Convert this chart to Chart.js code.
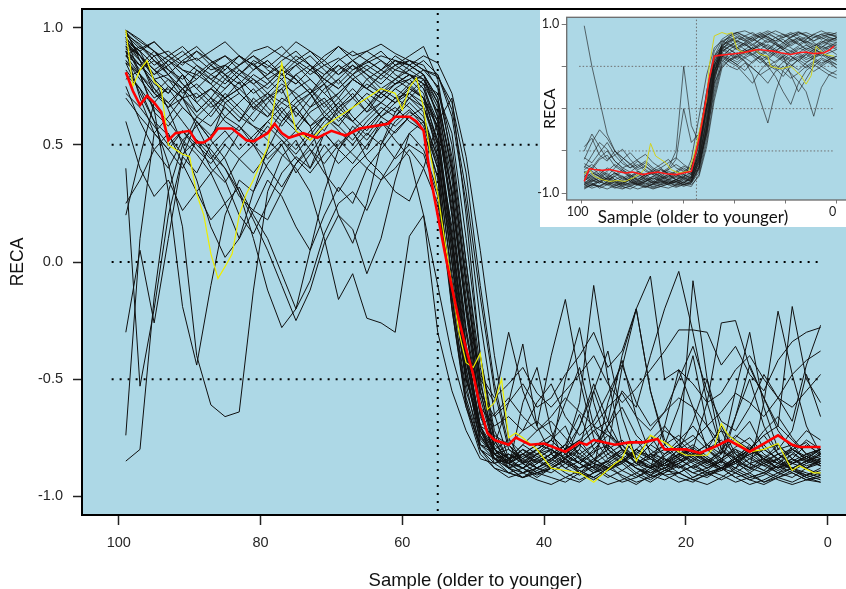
<!DOCTYPE html>
<html>
<head>
<meta charset="utf-8">
<title>RECA by sample</title>
<script src="https://cdn.jsdelivr.net/npm/chart.js@4/dist/chart.umd.min.js"></script>
<style>
  html, body { margin: 0; padding: 0; width: 846px; height: 589px; overflow: hidden; background: #fff; }
  #mainWrap { position: absolute; left: 0; top: 0; width: 869px; height: 589px; }
  #insetPaper { position: absolute; left: 540px; top: 10px; width: 306px; height: 217px; background: #fff; }
  #insetChart { position: absolute; left: 536px; top: 10px; filter: blur(0.3px); }
</style>
</head>
<body>
<div id="mainWrap"><canvas id="mainChart" width="869" height="589"></canvas></div>
<div id="insetPaper"></div>
<canvas id="insetChart" width="314" height="217"></canvas>
<script>
// ---------- main panel ----------
// sample positions shared by every run (older -> younger)
const samples = [99,97,95,93,91,89,87,85,83,81,79,77,75,73,71,69,67,65,63,61,59,57,55,53,51,49,47,45,43,41,39,37,35,33,31,29,27,25,23,21,19,17,15,13,11,9,7,5,3,1];

// individual runs, RECA in hundredths
const mainRuns = [
  [98,92,88,90,85,87,82,84,80,86, 83,88,85,80,84,87,82,85,88,86, 84,80,62,20,-35,-70,-82,-85,-80,-83, -86,-82,-78,-84,-88,-85,-80,-83,-87,-84, -80,-85,-88,-83,-79,-84,-86,-82,-85,-87],
  [95,90,78,72,80,68,74,70,77,65, 72,78,70,74,66,72,78,74,70,76, 80,74,55,10,-40,-72,-84,-88,-90,-86, -82,-88,-91,-87,-85,-89,-92,-88,-84,-87, -90,-88,-85,-89,-92,-90,-86,-88,-91,-89],
  [90,70,55,48,40,52,45,35,20,12, 25,38,45,40,50,42,48,55,50,60, 65,58,40,-5,-45,-78,-80,-76,-82,-78, -74,-80,-70,-55,-72,-80,-84,-78,-82,-76, -70,-78,-82,-75,-68,-80,-84,-79,-72,-76],
  [-74,10,55,62,70,58,64,72,66,60, 68,74,62,70,76,64,70,78,72,68, 75,70,45,5,-42,-70,-86,-90,-88,-92, -88,-84,-90,-93,-89,-86,-91,-94,-90,-87, -92,-89,-85,-90,-93,-91,-87,-90,-93,-92],
  [-85,-80,-15,30,50,62,58,66,60,70, 64,58,66,72,62,68,60,66,74,70, 72,78,68,40,-10,-55,-78,-84,-80,-86, -82,-78,-65,-80,-86,-82,-76,-84,-88,-85, -82,-78,-84,-88,-80,-74,-82,-86,-83,-80],
  [85,72,60,42,15,-40,-61,-66,-64,-12, 30,45,52,40,55,48,58,52,60,55, 62,66,50,15,-30,-66,-80,-84,-78,-82, -85,-80,-84,-78,-72,-80,-86,-82,-84,-88, -84,-80,-76,-82,-86,-84,-80,-78,-85,-82],
  [92,80,65,30,-19,-44,-10,20,35,30, 42,50,38,46,55,48,42,50,58,62, 70,64,30,-20,-60,-80,-84,-82,-86,-80, -76,-82,-86,-90,-84,-80,-86,-88,-82,-78, -83,-87,-84,-80,-86,-89,-84,-81,-86,-84],
  [-30,5,-26,10,45,60,52,68,62,58, 55,64,70,62,56,66,72,64,68,74, 70,76,72,55,10,-40,-72,-85,-88,-84, -80,-86,-90,-85,-78,-84,-88,-91,-86,-82, -86,-90,-88,-84,-80,-86,-90,-92,-88,-85],
  [20,45,68,75,70,82,78,74,80,85, 78,72,80,84,76,70,78,82,86,80, 76,70,52,5,-48,-76,-82,-88,-84,-80, -76,-60,-45,-70,-82,-86,-80,-74,-84,-88, -85,-80,-70,-82,-88,-84,-78,-84,-88,-86],
  [99,95,90,86,82,80,85,88,84,90, 92,88,94,90,86,92,88,90,93,89, 86,82,75,50,0,-50,-80,-88,-92,-90, -88,-92,-94,-90,-86,-92,-95,-91,-88,-92, -94,-90,-88,-92,-95,-93,-90,-88,-92,-94],
  [75,60,48,55,42,30,38,25,10,22, 35,28,15,5,20,32,25,40,35,45, 55,48,30,-10,-50,-72,-80,-84,-78,-72, -68,-75,-82,-78,-70,-62,-74,-80,-85,-80, -76,-70,-78,-84,-80,-72,-66,-75,-82,-80],
  [96,88,82,75,70,72,66,70,74,68, 62,70,66,58,40,20,8,25,50,64, 72,68,58,30,-20,-62,-82,-86,-90,-88, -84,-80,-86,-90,-87,-83,-88,-92,-90,-86, -82,-86,-89,-85,-80,-84,-88,-86,-83,-87],
  [88,84,78,80,72,76,70,78,74,80, 76,82,78,72,80,84,78,74,80,86, 84,88,85,72,45,5,-40,-75,-86,-90, -88,-84,-90,-92,-88,-85,-90,-93,-89,-86, -90,-92,-88,-85,-90,-94,-91,-88,-90,-92],
  [94,86,72,68,74,64,70,66,60,68, 72,64,58,66,70,62,55,48,60,52, 45,20,-30,-55,-72,-84,-86,-82,-85,-88, -84,-80,-76,-84,-88,-86,-80,-84,-87,-83, -79,-84,-88,-86,-81,-78,-85,-89,-86,-82],
  [97,93,86,82,78,84,80,76,82,78, 74,80,84,78,72,78,84,80,76,82, 80,74,60,20,-30,-65,-78,-60,-35,-70, -82,-50,-28,-60,-80,-45,-20,-55,-78,-62, -40,-70,-82,-55,-30,-62,-80,-72,-48,-66],
  [90,82,88,80,86,82,76,84,88,82, 86,80,76,82,86,80,84,78,82,86, 82,78,66,35,-15,-58,-80,-86,-82,-88, -84,-80,-86,-82,-70,-55,-62,-40,-20,-4, -30,-60,-80,-84,-78,-85,-88,-82,-76,-80],
  [92,88,80,84,76,70,74,80,72,66, 70,76,72,66,74,78,70,64,72,78, 74,70,58,25,-20,-48,-58,-52,-45,-56, -62,-55,-48,-40,-52,-60,-54,-46,-38,-29, -29,-30,-44,-36,-48,-55,-42,-34,-30,-28],
  [86,80,72,78,70,64,70,62,68,74, 66,60,68,72,64,58,66,70,62,68, 72,66,48,0,-50,-70,-65,-58,-66,-72, -66,-58,-64,-70,-62,-56,-66,-72,-64,-58, -62,-70,-64,-56,-60,-66,-58,-48,-42,-38],
  [99,94,90,84,88,92,86,82,88,84, 80,86,90,84,80,86,90,86,82,88, 84,80,70,40,-10,-50,-60,-30,-55,-70, -40,-16,-50,-75,-84,-80,-86,-82,-78,-84, -8,-50,-80,-86,-89,-85,-82,-86,-88,-84],
  [60,40,28,35,22,30,18,25,32,20, 10,-5,-20,-8,12,25,30,22,35,40, 48,40,25,-15,-55,-75,-82,-78,-84,-80, -76,-82,-86,-80,-74,-78,-84,-88,-82,-78, -74,-80,-84,-79,-75,-82,-86,-80,-77,-83],
  [80,74,66,60,52,58,46,40,30,18, 5,-10,-25,-12,8,20,14,-5,10,35, 55,60,45,0,-42,-74,-84,-88,-86,-82, -80,-84,-88,-85,-80,-84,-88,-90,-86,-83, -80,-84,-88,-85,-82,-86,-89,-86,-83,-85],
  [95,90,94,88,84,90,86,80,84,88, 82,78,84,88,82,76,82,86,90,84, 88,92,78,42,-5,-52,-76,-88,-92,-88, -90,-86,-83,-88,-92,-89,-85,-88,-91,-90, -87,-84,-88,-92,-90,-86,-84,-89,-92,-90],
  [78,82,86,80,74,78,84,88,82,76, 80,84,78,72,76,82,86,80,74,78, 82,86,80,65,30,-15,-55,-80,-85,-82, -78,-84,-70,-52,-68,-80,-86,-84,-78,-74, -80,-86,-82,-66,-50,-70,-82,-86,-84,-80],
  [98,88,78,65,50,35,15,2,10,30, 48,60,66,58,64,70,62,56,64,70, 66,60,42,-8,-52,-80,-88,-90,-92,-89, -86,-90,-93,-90,-88,-91,-94,-92,-89,-90, -93,-95,-92,-88,-91,-94,-92,-90,-93,-94],
  [96,80,64,58,66,60,54,62,58,52, 60,66,58,52,60,66,60,54,62,66, 60,56,36,-15,-58,-78,-82,-86,-80,-84, -88,-84,-78,-72,-80,-86,-82,-76,-70,-78, -84,-86,-80,-74,-78,-84,-88,-84,-78,-82],
  [88,92,86,80,86,90,84,78,84,88, 84,80,86,90,84,80,86,82,78,84, 80,76,64,28,-22,-64,-82,-88,-60,-45, -72,-86,-80,-55,-38,-66,-84,-88,-70,-46, -62,-80,-86,-66,-44,-58,-70,-19,-50,-60],
  [93,88,82,78,74,80,76,70,74,78, 72,68,74,78,72,66,70,76,72,76, 78,72,50,8,-40,-72,-84,-82,-86,-90, -87,-83,-86,-89,-85,-81,-84,-88,-85,-82, -85,-88,-84,-80,-83,-87,-90,-86,-83,-86],
  [25,35,48,40,52,46,38,45,55,50, 58,52,46,54,62,56,50,58,64,70, 76,80,70,38,-8,-55,-80,-86,-88,-85, -82,-86,-88,-84,-80,-76,-82,-86,-89,-86, -83,-80,-85,-88,-84,-80,-78,-84,-87,-85],
  [86,78,70,74,66,60,52,44,30,10, -12,-28,-20,5,30,48,56,62,68,64, 70,66,52,10,-38,-70,-84,-86,-83,-80, -84,-88,-85,-81,-78,-84,-87,-83,-80,-84, -88,-85,-81,-84,-88,-86,-82,-80,-84,-87],
  [97,91,94,88,92,86,90,94,88,84, 88,92,86,82,88,92,86,90,86,82, 86,84,74,45,0,-45,-76,-86,-90,-88, -85,-80,-60,-10,-50,-78,-86,-90,-88,-84, -88,-91,-89,-85,-88,-90,-87,-84,-88,-91],
  [90,84,76,72,80,74,68,74,80,76, 70,74,80,74,68,72,78,74,70,76, 80,76,56,12,-36,-70,-80,-84,-82,-78, -80,-84,-78,-72,-68,-40,-20,-55,-76,-82, -80,-60,-26,-25,-45,-58,-72,-80,-84,-80],
  [72,66,58,50,56,48,42,50,44,38, 46,52,44,38,46,52,46,40,48,56, 62,56,36,-18,-60,-80,-86,-84,-88,-91, -88,-85,-89,-92,-88,-84,-88,-91,-93,-90, -87,-90,-93,-90,-86,-89,-92,-94,-91,-88],
  [94,90,84,88,82,78,84,80,76,82, 86,80,76,82,78,74,80,84,80,76, 80,78,62,22,-28,-62,-70,-66,-72,-60, -52,-66,-74,-68,-56,-44,-60,-70,-64,-50, -36,-55,-68,-72,-62,-48,-58,-68,-44,-27],
  [85,80,74,68,60,52,48,40,28,22, 18,30,42,50,58,64,60,66,72,68, 74,70,60,30,-18,-62,-84,-90,-92,-90, -92,-94,-90,-87,-91,-94,-92,-89,-86,-90, -93,-91,-88,-90,-93,-95,-92,-89,-91,-93],
  [99,86,74,66,70,62,68,60,56,64, 70,62,56,64,68,60,66,72,68,74, 78,82,79,68,38,-10,-52,-78,-86,-84, -80,-84,-88,-86,-82,-78,-84,-88,-86,-82, -78,-83,-87,-84,-80,-84,-88,-85,-82,-84],
  [40,-53,-20,20,45,38,50,56,48,54, 60,54,48,56,62,58,52,60,66,62, 68,62,44,0,-46,-74,-82,-80,-84,-88, -84,-78,-82,-86,-88,-84,-80,-83,-87,-85, -81,-85,-88,-84,-80,-83,-86,-88,-85,-81],
  [92,86,80,86,90,84,78,82,88,84, 78,82,88,84,78,74,80,86,82,78, 84,80,68,30,-20,-56,-66,-60,-52,-62, -58,-48,-40,-30,-45,-38,-20,-6,-50,-46, -52,-60,-56,-46,-40,-50,-58,-62,-55,-48],
  [91,84,90,82,76,70,74,68,72,66, 62,68,64,58,62,68,74,68,62,58, 64,60,40,-20,-62,-82,-88,-92,-90,-93, -95,-92,-89,-92,-95,-93,-90,-87,-91,-94, -92,-89,-91,-94,-92,-90,-93,-95,-93,-91],
  [82,74,60,54,46,52,40,34,44,50, 40,32,42,48,38,30,40,46,52,44, 50,46,28,-12,-50,-70,-74,-78,-72,-68, -74,-80,-76,-70,-74,-80,-84,-78,-72,-76, -82,-78,-72,-76,-80,-74,-70,-76,-82,-80],
  [94,88,82,86,80,74,80,84,78,72, 76,82,78,72,78,84,80,74,80,84, 86,82,80,62,25,-25,-65,-84,-88,-82, -76,-70,-84,-88,-60,-42,-66,-82,-86,-80, -68,-50,-72,-84,-88,-60,-21,-48,-70,-82],
  [70,62,55,48,56,50,44,52,58,50, 44,50,56,48,42,50,56,44,38,30, 26,40,60,70,20,-40,-75,-84,-82,-86, -82,-78,-84,-88,-85,-80,-84,-87,-83,-79, -84,-88,-85,-81,-84,-87,-84,-80,-83,-86],
  [88,80,72,66,74,68,62,70,64,58, 52,46,40,30,10,-16,-5,-24,-26,-30, 11,20,-10,-40,-62,-78,-84,-86,-82,-85, -88,-84,-80,-86,-89,-85,-81,-84,-88,-86, -82,-85,-89,-86,-82,-80,-84,-88,-85,-83]
];

// mean of all runs
const meanSamples = [99,98,97,96,95,94,93,92,90,89, 88,87,86,84,82,81,79,78,77,76, 74,72,70,68,66,64,62,61,59,58, 57,56,55,54,53,52,51,50,49,48, 47,45,44,42,40,37,35,34,33,30, 28,26,24,23,20,18,16,14,11,9, 7,5,4,1];
const meanReca = [0.81,0.73,0.67,0.71,0.68,0.64,0.52,0.55,0.56,0.51, 0.51,0.53,0.57,0.57,0.52,0.515,0.55,0.59,0.55,0.53, 0.55,0.53,0.56,0.54,0.57,0.58,0.59,0.62,0.62,0.60, 0.56,0.36,0.20,0.04,-0.11,-0.25,-0.37,-0.48,-0.62,-0.73, -0.76,-0.78,-0.75,-0.78,-0.775,-0.81,-0.77,-0.78,-0.76,-0.78, -0.77,-0.77,-0.755,-0.80,-0.80,-0.815,-0.79,-0.76,-0.81,-0.775, -0.74,-0.78,-0.79,-0.79];

// highlighted single run
const hlSamples = [99,98,97,96,95,94,93,91,90,89, 88,87,86,85,84,83,82,81,79,78, 77,76,75,73,71,69,67,65,63,62, 61,60,59,58,57,56,55,54,53,52, 51,50,49,48,47,46,45,44,43,41, 39,37,35,33,30,29,28,27,25,23, 21,20,17,16,15,14,11,9,7,5, 4,2,1];
const hlReca = [0.99,0.75,0.82,0.86,0.77,0.74,0.50,0.46,0.45,0.29, 0.20,0.035,-0.07,-0.02,0.035,0.20,0.29,0.35,0.49,0.69, 0.85,0.69,0.56,0.52,0.58,0.62,0.66,0.70,0.74,0.73, 0.72,0.65,0.745,0.785,0.66,0.45,0.29,0.09,-0.10,-0.30, -0.43,-0.45,-0.39,-0.63,-0.60,-0.50,-0.75,-0.73,-0.75,-0.80, -0.88,-0.89,-0.90,-0.94,-0.86,-0.84,-0.77,-0.85,-0.74,-0.77, -0.81,-0.825,-0.825,-0.79,-0.69,-0.74,-0.81,-0.80,-0.775,-0.89, -0.87,-0.90,-0.90];

// reference levels and split position
const refLevels = [0.5, 0, -0.5];
const refSpan = [101, 1];
const splitSample = 55;

const mainXTicks = [100, 80, 60, 40, 20, 0];
const mainYTicks = [-1, -0.5, 0, 0.5, 1];

// ---------- inset panel ----------
const insetSamples = [99,96,93,90,87,84,81,78,75,72,69,66,63,60,57,54,51,48,45,42,39,36,33,30,27,24,21,18,15,12,9,6,3,0];

const insetRuns = [
  [-90,-85,-88,-82,-86,-90,-84,-88,-86,-82, -85,-88,-84,-86,-82,-50,10,60,75,80, 72,78,84,76,70,78,82,74,80,85,78,72,80,84],
  [98,50,10,-30,-50,-62,-70,-66,-74,-78, -72,-76,-80,-74,-78,-60,-20,40,70,78, 84,80,74,82,86,78,72,80,84,76,70,78,82,80],
  [-80,-72,-60,-55,-68,-74,-80,-76,-84,-88, -82,-86,-90,-84,-80,-40,20,68,82,88, 90,85,80,86,90,84,78,85,90,86,80,84,88,86],
  [-92,-88,-94,-90,-86,-92,-95,-90,-88,-93, -90,-86,-92,-89,-86,-70,-30,20,55,66, 60,68,72,64,58,66,70,62,56,64,70,66,60,58],
  [-70,-55,-40,-48,-62,-70,-66,-74,-80,-76, -82,-78,-84,-80,-76,-55,-5,45,60,55, 50,40,30,45,55,48,38,50,58,52,44,50,56,48],
  [-85,-80,-76,-84,-88,-82,-78,-85,-90,-86, -80,-84,-88,-82,-60,-10,40,72,80,76, 70,76,82,78,72,68,76,82,78,70,74,80,76,72],
  [-60,-40,-25,-35,-50,-58,-65,-72,-68,-76, -80,-74,-78,-82,-78,-62,-25,35,62,70, 64,56,40,10,-17,20,45,58,62,55,60,66,62,58],
  [-95,-90,-92,-88,-93,-95,-91,-88,-92,-95, -92,-89,-86,-90,-88,-75,-35,30,72,84, 88,82,86,90,84,80,86,90,86,82,88,92,88,85],
  [-75,-82,-78,-70,-76,-84,-80,-74,-78,-84, -78,-72,-60,0,-40,-30,15,55,70,64, 58,66,72,66,60,54,62,68,64,58,62,66,60,56],
  [-88,-84,-80,-86,-90,-85,-82,-88,-84,-80, -76,-70,-50,50,-20,-40,0,50,75,82, 78,74,80,86,82,76,70,78,84,80,74,78,84,82],
  [-50,-30,-45,-60,-55,-65,-70,-62,-68,-74, -70,-78,-74,-68,-72,-58,-15,30,50,58, 52,45,56,62,50,38,20,5,30,45,52,46,40,36],
  [-90,-86,-82,-88,-92,-88,-84,-90,-93,-89, -85,-88,-91,-87,-84,-68,-25,40,78,86, 90,86,82,88,92,88,84,88,91,87,84,88,90,88],
  [-82,-76,-80,-86,-78,-72,-80,-84,-78,-74, -80,-84,-78,-82,-85,-55,5,58,72,66, 72,78,70,64,70,76,70,64,70,75,70,66,72,76],
  [-65,-70,-58,-50,-62,-70,-75,-68,-62,-70, -76,-72,-66,-72,-78,-48,10,52,64,58, 52,60,65,58,50,56,62,40,20,35,50,58,54,48],
  [-86,-90,-84,-80,-86,-90,-88,-82,-86,-90, -87,-83,-86,-90,-86,-60,-15,45,68,74, 80,76,70,76,82,78,72,68,74,80,76,70,74,78],
  [-78,-84,-88,-82,-76,-82,-86,-80,-84,-88, -82,-78,-84,-88,-80,-65,-30,25,60,70, 76,70,64,70,76,70,64,58,66,72,68,62,66,70],
  [-72,-66,-74,-80,-70,-60,-52,-62,-72,-78, -84,-80,-74,-78,-82,-52,5,62,80,84, 80,86,90,84,78,84,88,82,76,82,88,84,80,84],
  [-90,-94,-91,-87,-90,-94,-92,-88,-91,-94, -92,-89,-86,-90,-92,-78,-40,15,52,62, 66,60,54,62,68,62,56,50,58,64,58,52,58,62],
  [-84,-78,-72,-78,-84,-88,-82,-76,-80,-86, -88,-84,-80,-84,-86,-70,-20,50,72,76, 72,66,72,78,74,68,74,80,76,70,66,72,78,74],
  [-58,-64,-52,-40,-55,-48,-60,-70,-64,-72, -66,-60,-70,-74,-68,-45,0,40,58,50, 46,54,48,40,30,44,50,42,32,20,-9,25,40,45],
  [-93,-90,-86,-90,-94,-91,-87,-90,-93,-89, -86,-90,-93,-90,-87,-72,-28,35,70,80, 84,80,84,88,84,80,84,88,82,78,84,88,84,82],
  [-76,-70,-78,-84,-80,-74,-82,-86,-80,-76, -72,-78,-82,-76,-70,-35,20,62,74,70, 64,70,76,70,64,72,78,72,66,60,68,74,70,64],
  [-88,-82,-86,-90,-84,-80,-86,-90,-86,-82, -86,-90,-86,-82,-86,-62,-10,48,66,60, 55,62,68,60,52,46,55,62,56,48,54,60,56,52],
  [-68,-74,-80,-74,-66,-72,-78,-84,-78,-72, -78,-82,-76,-70,-76,-50,0,55,74,80, 86,82,76,82,88,84,78,84,90,86,80,86,88,84],
  [-94,-90,-92,-95,-91,-88,-92,-95,-92,-89, -92,-94,-90,-87,-90,-80,-45,10,48,58, 62,56,48,40,46,52,44,36,42,50,56,50,44,40],
  [-80,-86,-82,-76,-84,-88,-84,-78,-82,-88, -84,-80,-84,-88,-82,-58,0,52,68,74, 70,64,70,76,70,64,58,66,72,68,62,68,74,70],
  [-45,-35,-55,-62,-50,-58,-66,-60,-54,-64, -70,-64,-58,-66,-72,-40,15,50,62,56, 62,68,62,54,60,66,60,52,46,54,60,64,58,52],
  [-88,-92,-86,-82,-88,-92,-89,-85,-88,-92, -89,-85,-88,-92,-88,-70,-22,42,76,86, 90,92,88,84,88,92,88,84,88,90,86,82,86,90],
  [-82,-88,-92,-86,-80,-86,-90,-86,-82,-86, -90,-88,-84,-80,-84,-64,-10,45,62,58, 64,70,64,58,62,68,62,56,60,66,60,54,58,62],
  [-74,-80,-86,-82,-76,-80,-86,-90,-86,-80, -84,-88,-84,-78,-82,-68,-24,38,66,74, 80,76,70,74,80,76,70,76,82,78,72,76,80,78]
];

const insetMeanSamples = [99,97,95,92,89,86,83,80,76,73, 70,67,63,60,57,56,54,52,50,48, 46,43,40,37,34,31,28,25,22,18, 15,12,9,5,3,1];
const insetMeanReca = [-0.86,-0.71,-0.72,-0.73,-0.72,-0.74,-0.76,-0.75,-0.78,-0.76, -0.75,-0.77,-0.78,-0.76,-0.74,-0.62,-0.36,-0.03,0.35,0.62, 0.63,0.64,0.65,0.66,0.68,0.70,0.69,0.68,0.66,0.64, 0.66,0.67,0.65,0.66,0.69,0.74];

const insetHlSamples = [99,97,95,92,89,86,83,80,77,75, 73,71,69,67,65,62,58,56,54,51, 50,48,45,43,41,39,36,32,30,27, 26,22,18,14,12,10,8,5,1];
const insetHlReca = [-0.77,-0.72,-0.80,-0.84,-0.86,-0.85,-0.86,-0.82,-0.77,-0.70, -0.41,-0.56,-0.60,-0.64,-0.72,-0.76,-0.74,-0.55,-0.29,0.11, 0.50,0.86,0.90,0.88,0.90,0.70,0.66,0.70,0.64,0.62, 0.50,0.47,0.50,0.39,0.29,0.39,0.74,0.64,0.62];

const insetXTicks = [100, 80, 60, 40, 20, 0];
const insetXLabeled = [100, 0];
const insetYTicks = [-1, -0.5, 0, 0.5, 1];
const insetYLabeled = [-1, 1];
const insetCaption = 'Sample (older to younger)';

// ---------- helpers ----------
const toPoints = (xs, ys, scale) => xs.map((x, i) => ({ x: x, y: ys[i] / scale }));

// light blue panel fill behind the data and a frame around the plot area
const plotFrame = {
  id: 'plotFrame',
  beforeDraw(chart, args, opts) {
    const { ctx, chartArea: a } = chart;
    ctx.save();
    ctx.fillStyle = opts.fill;
    ctx.fillRect(a.left, a.top, a.right - a.left, a.bottom - a.top);
    ctx.restore();
  },
  afterDatasetsDraw(chart, args, opts) {
    const { ctx, chartArea: a } = chart;
    ctx.save();
    ctx.strokeStyle = opts.stroke;
    ctx.lineWidth = opts.width;
    ctx.strokeRect(a.left, a.top, a.right - a.left, a.bottom - a.top);
    ctx.restore();
  }
};

// caption centred on the panel, sitting on the same row as the outer tick labels
const panelCaption = {
  id: 'panelCaption',
  afterDraw(chart, args, opts) {
    if (!opts.text) return;
    const ctx = chart.ctx;
    ctx.save();
    ctx.font = opts.font;
    ctx.fillStyle = opts.color;
    ctx.textAlign = 'center';
    ctx.textBaseline = 'middle';
    ctx.fillText(opts.text, opts.x, opts.y);
    ctx.restore();
  }
};

// fixed axis box sizes, with no extra room reserved for edge labels
const fixHeight = h => s => { s.height = h; s.paddingLeft = 0; s.paddingRight = 0; s.paddingTop = 0; s.paddingBottom = 0; };
const fixWidth = w => s => { s.width = w; s.paddingLeft = 0; s.paddingRight = 0; s.paddingTop = 0; s.paddingBottom = 0; };

function buildDatasets(cfg) {
  const ds = [];
  ds.push({ data: toPoints(cfg.meanX, cfg.meanY, 1), borderColor: cfg.meanColor, borderWidth: cfg.meanWidth, order: 0 });
  ds.push({ data: toPoints(cfg.hlX, cfg.hlY, 1), borderColor: cfg.hlColor, borderWidth: cfg.hlWidth, order: 1 });
  cfg.runs.forEach(run => {
    ds.push({ data: toPoints(cfg.x, run, 100), borderColor: cfg.runColor, borderWidth: cfg.runWidth, order: 2 });
  });
  refLevels.forEach(level => {
    ds.push({ data: [{ x: refSpan[0], y: level }, { x: refSpan[1], y: level }],
      borderColor: cfg.refColor, borderWidth: cfg.refWidth, borderDash: cfg.refDash, order: 3 });
  });
  ds.push({ data: [{ x: splitSample, y: -1.2 }, { x: splitSample, y: 1.2 }],
    borderColor: cfg.refColor, borderWidth: cfg.refWidth, borderDash: cfg.refDash, order: 3 });
  return ds;
}

const commonOptions = {
  responsive: false,
  animation: false,
  devicePixelRatio: 1,
  events: [],
  elements: { point: { radius: 0 }, line: { tension: 0, fill: false, borderCapStyle: 'butt' } },
};

// ---------- main chart ----------
new Chart(document.getElementById('mainChart'), {
  type: 'line',
  data: {
    datasets: buildDatasets({
      x: samples, runs: mainRuns, runColor: '#101010', runWidth: 1,
      meanX: meanSamples, meanY: meanReca, meanColor: '#ff0000', meanWidth: 2.6,
      hlX: hlSamples, hlY: hlReca, hlColor: '#eeee00', hlWidth: 1.2,
      refColor: '#000000', refWidth: 2, refDash: [2, 6]
    })
  },
  plugins: [plotFrame],
  options: Object.assign({}, commonOptions, {
    layout: { padding: { top: 9, left: 0, right: 0, bottom: 0 } },
    plugins: {
      legend: { display: false },
      tooltip: { enabled: false },
      plotFrame: { fill: '#add8e6', stroke: '#000000', width: 2 }
    },
    scales: {
      x: {
        type: 'linear', reverse: true, min: -5.83, max: 105.18,
        afterBuildTicks: s => { s.ticks = mainXTicks.map(v => ({ value: v })); },
        afterFit: fixHeight(74),
        border: { display: false },
        grid: { drawOnChartArea: false, drawTicks: true, tickLength: 10, tickColor: '#222', tickWidth: 1.5 },
        ticks: { autoSkip: false, maxRotation: 0, padding: 9, color: '#262626',
          font: { family: 'Liberation Sans', size: 14.5 }, callback: v => String(v) },
        title: { display: true, text: 'Sample (older to younger)', color: '#111',
          font: { family: 'Liberation Sans', size: 18.5, lineHeight: 0.9 }, padding: { top: 0, bottom: 0 } }
      },
      y: {
        type: 'linear', min: -1.08, max: 1.08,
        afterBuildTicks: s => { s.ticks = mainYTicks.map(v => ({ value: v })); },
        afterFit: fixWidth(82),
        border: { display: false },
        grid: { drawOnChartArea: false, drawTicks: true, tickLength: 9, tickColor: '#222', tickWidth: 1.5 },
        ticks: { padding: 10, color: '#262626', font: { family: 'Liberation Sans', size: 14.5 },
          callback: v => Number(v).toFixed(1) },
        title: { display: true, text: 'RECA', color: '#111',
          font: { family: 'Liberation Sans', size: 17.5, lineHeight: 1 }, padding: { top: 9.75, bottom: 0 } }
      }
    }
  })
});

// ---------- inset chart ----------
new Chart(document.getElementById('insetChart'), {
  type: 'line',
  data: {
    datasets: buildDatasets({
      x: insetSamples, runs: insetRuns, runColor: 'rgba(25,25,25,0.78)', runWidth: 0.8,
      meanX: insetMeanSamples, meanY: insetMeanReca, meanColor: '#ff1a1a', meanWidth: 1.6,
      hlX: insetHlSamples, hlY: insetHlReca, hlColor: '#d2d21e', hlWidth: 1,
      refColor: '#6e6e6e', refWidth: 1, refDash: [1.5, 2]
    })
  },
  plugins: [plotFrame, panelCaption],
  options: Object.assign({}, commonOptions, {
    layout: { padding: { top: 7.3, left: 0, right: 0, bottom: 0 } },
    plugins: {
      legend: { display: false },
      tooltip: { enabled: false },
      plotFrame: { fill: '#add8e6', stroke: '#6b6b6b', width: 1.3 },
      panelCaption: { text: insetCaption, font: '17px Lato', color: '#111', x: 157, y: 208 }
    },
    scales: {
      x: {
        type: 'linear', reverse: true, min: -5.22, max: 105.88,
        afterBuildTicks: s => { s.ticks = insetXTicks.map(v => ({ value: v })); },
        afterFit: fixHeight(27),
        border: { display: false },
        grid: { drawOnChartArea: false, drawTicks: true, tickLength: 3.5, tickColor: '#777', tickWidth: 1 },
        ticks: { autoSkip: false, maxRotation: 0, padding: 0.7, labelOffset: -4, color: '#222',
          font: { family: 'Lato', size: 12.5 },
          callback: v => insetXLabeled.includes(v) ? String(v) : '' }
      },
      y: {
        type: 'linear', min: -1.08, max: 1.08,
        afterBuildTicks: s => { s.ticks = insetYTicks.map(v => ({ value: v })); },
        afterFit: fixWidth(30.7),
        border: { display: false },
        grid: { drawOnChartArea: false, drawTicks: true, tickLength: 5, tickColor: '#777', tickWidth: 1 },
        ticks: { padding: 2.4, color: '#222', font: { family: 'Lato', size: 12.5 },
          callback: v => insetYLabeled.includes(v) ? Number(v).toFixed(1) : '' },
        title: { display: true, text: 'RECA', color: '#111',
          font: { family: 'Lato', size: 16, lineHeight: 1 }, padding: { top: 5.5, bottom: 0 } }
      }
    }
  })
});
</script>
</body>
</html>
